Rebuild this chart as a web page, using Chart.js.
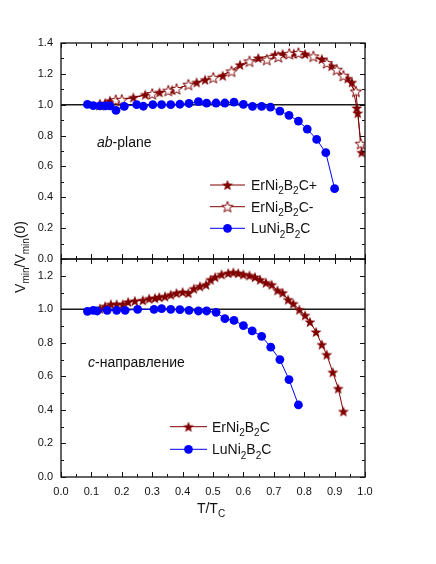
<!DOCTYPE html>
<html>
<head>
<meta charset="utf-8">
<script src="https://cdn.jsdelivr.net/npm/chart.js@4.4.0/dist/chart.umd.min.js"></script>
<style>
html,body{margin:0;padding:0;background:#fff;}
#wrap{position:relative;width:436px;height:564px;}
canvas{display:block;}
</style>
</head>
<body>
<div id="wrap"><canvas id="c" width="436" height="564"></canvas></div>
<script>
// ---------------- data ----------------
const xTicks = [0.0,0.1,0.2,0.3,0.4,0.5,0.6,0.7,0.8,0.9,1.0];
const topYTicks = [0.0,0.2,0.4,0.6,0.8,1.0,1.2,1.4];
const botYTicks = [0.0,0.2,0.4,0.6,0.8,1.0,1.2];
const referenceLevel = 1.0;

// top panel (ab-plane)
const tErPlusTop = [0.145,0.161,0.238,0.277,0.324,0.366,0.446,0.474,0.532,0.589,0.649,0.704,0.729,0.766,0.803,0.858,0.890,0.943,0.957,0.973,0.976,0.989];
const vErPlusTop = [1.010,1.026,1.047,1.065,1.080,1.095,1.145,1.162,1.188,1.259,1.303,1.324,1.329,1.332,1.329,1.296,1.250,1.170,1.145,0.979,0.946,0.691];
const tErMinusTop = [0.128,0.180,0.200,0.300,0.353,0.380,0.419,0.501,0.561,0.620,0.677,0.715,0.751,0.781,0.830,0.874,0.907,0.929,0.970,0.986];
const vErMinusTop = [1.000,1.030,1.032,1.070,1.091,1.102,1.130,1.175,1.216,1.281,1.292,1.310,1.330,1.335,1.313,1.270,1.227,1.188,1.086,0.747];
const tLuTop = [0.087,0.106,0.128,0.146,0.161,0.181,0.208,0.249,0.271,0.302,0.331,0.361,0.391,0.421,0.452,0.479,0.510,0.539,0.569,0.600,0.630,0.660,0.689,0.720,0.750,0.781,0.810,0.841,0.871,0.900];
const vLuTop = [1.002,0.994,0.992,0.992,0.992,0.963,0.989,1.000,0.990,1.000,1.000,1.000,1.003,1.008,1.020,1.010,1.011,1.011,1.017,1.002,0.989,0.989,0.985,0.959,0.931,0.894,0.842,0.775,0.689,0.456];

// bottom panel (c-direction)
const tErBot = [0.128,0.145,0.164,0.183,0.203,0.221,0.243,0.269,0.290,0.309,0.323,0.342,0.361,0.380,0.400,0.419,0.437,0.457,0.477,0.492,0.507,0.528,0.550,0.567,0.583,0.600,0.620,0.638,0.655,0.674,0.693,0.712,0.729,0.747,0.764,0.784,0.803,0.819,0.839,0.858,0.874,0.894,0.912,0.929];
const vErBot = [1.004,1.018,1.030,1.030,1.030,1.044,1.050,1.054,1.064,1.067,1.073,1.077,1.087,1.097,1.103,1.097,1.123,1.137,1.147,1.177,1.192,1.208,1.216,1.220,1.216,1.208,1.202,1.192,1.177,1.159,1.147,1.113,1.099,1.058,1.034,0.998,0.964,0.925,0.865,0.790,0.730,0.625,0.528,0.391];
const tLuBot = [0.087,0.106,0.119,0.152,0.183,0.211,0.252,0.306,0.331,0.361,0.391,0.421,0.452,0.479,0.510,0.539,0.569,0.600,0.629,0.660,0.690,0.720,0.750,0.781];
const vLuBot = [0.988,0.994,0.990,0.994,0.994,0.994,1.000,1.000,1.004,1.000,0.998,0.994,0.990,0.990,0.982,0.944,0.934,0.903,0.871,0.839,0.774,0.700,0.581,0.430];

const labelErPlus = 'ErNi_2B_2C+';
const labelErMinus = 'ErNi_2B_2C-';
const labelEr = 'ErNi_2B_2C';
const labelLu = 'LuNi_2B_2C';
const topNote = '*ab*-plane';
const botNote = '*c*-направление';
const xTitle = 'T/T_C';
const yTitle = 'V_{min}/V_{min}(0)';

// ---------------- helpers ----------------
const FAM = "'Liberation Sans', Arial, Helvetica, sans-serif";
const RED = '#800000';
const BLUE = '#0000ff';
const zip = (xs, ys) => xs.map((x, i) => ({x, y: ys[i]}));

function makeStar(filled) {
  const s = 14, c = document.createElement('canvas');
  c.width = s; c.height = s;
  const g = c.getContext('2d');
  const R = 5.8, r = 2.4, cx = s / 2, cy = s / 2 + 0.5;
  g.beginPath();
  for (let k = 0; k < 10; k++) {
    const a = -Math.PI / 2 + k * Math.PI / 5;
    const rad = k % 2 ? r : R;
    g.lineTo(cx + rad * Math.cos(a), cy + rad * Math.sin(a));
  }
  g.closePath();
  if (filled) { g.fillStyle = RED; g.fill(); }
  else { g.fillStyle = '#fff'; g.fill(); g.lineWidth = 1; g.strokeStyle = RED; g.stroke(); }
  return c;
}
const starFilled = makeStar(true);
const starOpen = makeStar(false);

function parseRich(str) {
  const parts = []; let i = 0, buf = '', italic = false;
  const push = (t, sub) => { if (t) parts.push({t, sub, italic}); };
  while (i < str.length) {
    const ch = str[i];
    if (ch === '_') {
      push(buf, false); buf = ''; i++;
      let t;
      if (str[i] === '{') { const j = str.indexOf('}', i); t = str.slice(i + 1, j); i = j + 1; }
      else { t = str[i]; i++; }
      push(t, true);
    } else if (ch === '*') { push(buf, false); buf = ''; italic = !italic; i++; }
    else { buf += ch; i++; }
  }
  push(buf, false);
  return parts;
}
function drawRich(ctx, str, x, y, size, align) {
  const parts = parseRich(str);
  const fontFor = p => `${p.italic ? 'italic ' : ''}${p.sub ? Math.round(size * 0.68) : size}px ${FAM}`;
  let w = 0;
  parts.forEach(p => { ctx.font = fontFor(p); p.w = ctx.measureText(p.t).width; w += p.w; });
  let cx = align === 'center' ? x - w / 2 : x;
  ctx.textAlign = 'left';
  ctx.textBaseline = 'alphabetic';
  parts.forEach(p => {
    ctx.font = fontFor(p);
    ctx.fillText(p.t, cx, y + (p.sub ? size * 0.3 : 0));
    cx += p.w;
  });
}

// ---------------- datasets ----------------
const lineDs = (label, xs, ys, axis, style, extra) => Object.assign({
  label, data: zip(xs, ys), yAxisID: axis,
  borderWidth: 1, pointStyle: style, showLine: true, tension: 0, fill: false
}, extra);

const datasets = [
  lineDs(labelLu, tLuTop, vLuTop, 'yTop', 'circle', {borderColor: BLUE, backgroundColor: BLUE, pointRadius: 4.4, pointBorderWidth: 0, order: 1}),
  lineDs(labelErMinus, tErMinusTop, vErMinusTop, 'yTop', starOpen, {borderColor: RED, backgroundColor: RED, order: 2}),
  lineDs(labelErPlus, tErPlusTop, vErPlusTop, 'yTop', starFilled, {borderColor: RED, backgroundColor: RED, order: 3}),
  lineDs(labelLu, tLuBot, vLuBot, 'yBot', 'circle', {borderColor: BLUE, backgroundColor: BLUE, pointRadius: 4.4, pointBorderWidth: 0, order: 1}),
  lineDs(labelEr, tErBot, vErBot, 'yBot', starFilled, {borderColor: RED, backgroundColor: RED, order: 2}),
  {label: '', data: [{x: xTicks[0], y: referenceLevel}, {x: xTicks[xTicks.length - 1], y: referenceLevel}], yAxisID: 'yTop', borderColor: '#1a1a1a', borderWidth: 1.4, pointRadius: 0, order: 10},
  {label: '', data: [{x: xTicks[0], y: referenceLevel}, {x: xTicks[xTicks.length - 1], y: referenceLevel}], yAxisID: 'yBot', borderColor: '#1a1a1a', borderWidth: 1.4, pointRadius: 0, order: 10}
];

// ---------------- plugins ----------------
const framePlugin = {
  id: 'frame',
  afterDatasetsDraw(chart) {
    const ctx = chart.ctx, a = chart.chartArea, x = chart.scales.x;
    ctx.save();
    ctx.strokeStyle = '#111';
    [['yTop', topYTicks], ['yBot', botYTicks]].forEach(([id, ticks]) => {
      const s = chart.scales[id];
      const top = s.top, bot = s.bottom;
      ctx.lineWidth = 1.3;
      ctx.strokeRect(a.left, top, a.right - a.left, bot - top);
      ctx.lineWidth = 1;
      ctx.beginPath();
      // x ticks (major + minor) on top and bottom edges, pointing inward
      for (let i = 0; i < xTicks.length; i++) {
        const px = Math.round(x.getPixelForValue(xTicks[i])) + 0.5;
        ctx.moveTo(px, top); ctx.lineTo(px, top + 5);
        ctx.moveTo(px, bot); ctx.lineTo(px, bot - 5);
        if (i < xTicks.length - 1) {
          const pm = Math.round(x.getPixelForValue((xTicks[i] + xTicks[i + 1]) / 2)) + 0.5;
          ctx.moveTo(pm, top); ctx.lineTo(pm, top + 3);
          ctx.moveTo(pm, bot); ctx.lineTo(pm, bot - 3);
        }
      }
      // y ticks on left and right edges, pointing inward
      for (let i = 0; i < ticks.length; i++) {
        const py = Math.round(s.getPixelForValue(ticks[i])) + 0.5;
        ctx.moveTo(a.left, py); ctx.lineTo(a.left + 5, py);
        ctx.moveTo(a.right, py); ctx.lineTo(a.right - 5, py);
        const mid = i < ticks.length - 1 ? (ticks[i] + ticks[i + 1]) / 2 : ticks[i] + (ticks[1] - ticks[0]) / 2;
        if (mid < s.max) {
          const pm = Math.round(s.getPixelForValue(mid)) + 0.5;
          ctx.moveTo(a.left, pm); ctx.lineTo(a.left + 3, pm);
          ctx.moveTo(a.right, pm); ctx.lineTo(a.right - 3, pm);
        }
      }
      ctx.stroke();
    });
    ctx.restore();
  }
};

const legendSpec = [
  {items: [2, 1, 0], lineX0: 210, lineX1: 245, textX: 251, rows: [185, 206.7, 228.3]},
  {items: [4, 3], lineX0: 170, lineX1: 207, textX: 212, rows: [426.7, 449.3]}
];

const textPlugin = {
  id: 'texts',
  afterDraw(chart) {
    const ctx = chart.ctx;
    ctx.save();
    ctx.fillStyle = '#111';
    // legends
    legendSpec.forEach(spec => {
      spec.items.forEach((di, r) => {
        const ds = chart.data.datasets[di];
        const y = spec.rows[r];
        ctx.strokeStyle = ds.borderColor; ctx.lineWidth = 1;
        ctx.beginPath(); ctx.moveTo(spec.lineX0, y); ctx.lineTo(spec.lineX1, y); ctx.stroke();
        const cx = (spec.lineX0 + spec.lineX1) / 2;
        if (ds.pointStyle === 'circle') {
          ctx.fillStyle = ds.backgroundColor;
          ctx.beginPath(); ctx.arc(cx, y, ds.pointRadius, 0, Math.PI * 2); ctx.fill();
        } else {
          const im = ds.pointStyle;
          ctx.drawImage(im, cx - im.width / 2, y - im.height / 2);
        }
        ctx.fillStyle = '#111';
        drawRich(ctx, ds.label, spec.textX, y + 5, 14, 'left');
      });
    });
    // panel notes
    drawRich(ctx, topNote, 97, 147, 14, 'left');
    drawRich(ctx, botNote, 88, 367, 14, 'left');
    // axis titles
    drawRich(ctx, xTitle, 211, 513, 14, 'center');
    ctx.save();
    ctx.translate(25, 257);
    ctx.rotate(-Math.PI / 2);
    drawRich(ctx, yTitle, 0, 0, 14, 'center');
    ctx.restore();
    ctx.restore();
  }
};

const tickFont = {family: FAM, size: 11};
const yAxis = (ticks, max, weight, stackWeight) => ({
  type: 'linear', position: 'left', stack: 'panels', stackWeight, weight,
  min: 0, max,
  afterBuildTicks: s => { s.ticks = ticks.map(v => ({value: v})); },
  afterFit: s => { s.width = 61; },
  grid: {display: false, drawTicks: false},
  border: {display: false},
  ticks: {padding: 8, font: tickFont, color: '#111', autoSkip: false, callback: v => Number(v).toFixed(1)}
});

new Chart(document.getElementById('c').getContext('2d'), {
  type: 'line',
  data: {datasets},
  options: {
    responsive: false,
    animation: false,
    devicePixelRatio: 1,
    layout: {padding: {left: 0, top: 43, right: 71, bottom: 0}},
    plugins: {legend: {display: false}, tooltip: {enabled: false}},
    scales: {
      x: {
        type: 'linear', position: 'bottom', min: 0, max: 1,
        afterBuildTicks: s => { s.ticks = xTicks.map(v => ({value: v})); },
        afterFit: s => { s.height = 87; },
        grid: {display: false, drawTicks: false},
        border: {display: false},
        ticks: {padding: 8, font: tickFont, color: '#111', autoSkip: false, maxRotation: 0, callback: v => Number(v).toFixed(1)}
      },
      yTop: yAxis(topYTicks, 1.4, 2, 216),
      yBot: yAxis(botYTicks, 1.3, 1, 218)
    }
  },
  plugins: [framePlugin, textPlugin]
});
</script>
</body>
</html>
